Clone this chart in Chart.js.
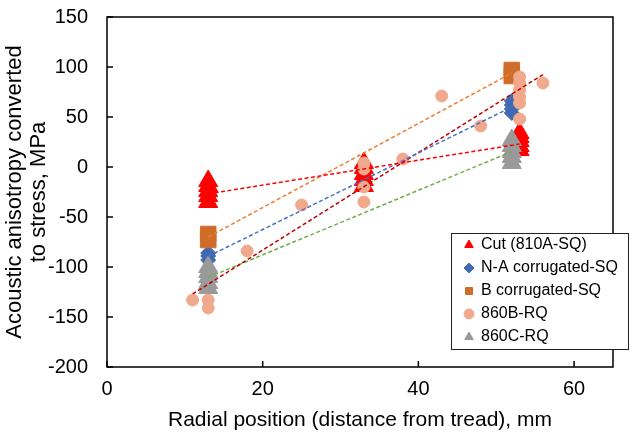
<!DOCTYPE html>
<html>
<head>
<meta charset="utf-8">
<script src="https://cdn.jsdelivr.net/npm/chart.js@4/dist/chart.umd.min.js"></script>
<style>
  body { margin: 0; background: #fff; }
  #wrap { width: 630px; height: 434px; }
</style>
</head>
<body>
<div id="wrap"><canvas id="myChart" width="630" height="434"></canvas></div>
<script>
// radial position (mm) and stress (MPa) per series
const cutX = [13, 13, 13, 13, 13, 33, 33, 33, 33, 33, 53, 53, 53, 53, 53];
const cutY = [-14, -19, -24, -29, -35, 4, -1, -7, -13, -19, 34, 30, 26, 21, 17];
const naX = [13, 13, 13, 52, 52, 52, 52];
const naY = [-86, -89, -93, 66, 62, 58, 54];
const bX = [13, 13, 52, 52];
const bY = [-67, -73, 97, 91];
const rqBX = [11, 13, 13, 18, 25, 33, 33, 33, 33, 38, 43, 48, 53, 53, 53, 53, 53, 53, 56];
const rqBY = [-133, -133, -141, -84, -38, 4, -2, -20, -35, 8, 71, 41, 90, 84, 77, 70, 64, 48, 84];
const rqCX = [13, 13, 13, 13, 13, 52, 52, 52, 52, 52];
const rqCY = [-100, -105, -110, -116, -121, 27, 21, 15, 10, 4];

const seriesNames = ["Cut (810A-SQ)", "N-A corrugated-SQ", "B corrugated-SQ", "860B-RQ", "860C-RQ"];
const xTicks = [0, 20, 40, 60];
const yTicks = [-200, -150, -100, -50, 0, 50, 100, 150];

const FONT = "'Liberation Sans', Arial, sans-serif";

function pts(xs, ys) {
  return xs.map((x, i) => ({ x: x, y: ys[i] }));
}

// least squares line over the data range, like an excel linear trendline
function trend(xs, ys) {
  const n = xs.length;
  const mx = xs.reduce((a, b) => a + b, 0) / n;
  const my = ys.reduce((a, b) => a + b, 0) / n;
  let sxy = 0, sxx = 0;
  xs.forEach((x, i) => { sxy += (x - mx) * (ys[i] - my); sxx += (x - mx) * (x - mx); });
  const k = sxy / sxx;
  const x0 = Math.min(...xs), x1 = Math.max(...xs);
  return [{ x: x0, y: my + k * (x0 - mx) }, { x: x1, y: my + k * (x1 - mx) }];
}

function markers(label, xs, ys, style, color, r, order) {
  return {
    label: label,
    data: pts(xs, ys),
    pointStyle: style,
    pointRadius: r,
    pointHoverRadius: r,
    backgroundColor: color,
    borderColor: color,
    borderWidth: 1,
    showLine: false,
    order: order
  };
}

function trendLine(xs, ys, color) {
  return {
    label: "trend",
    data: trend(xs, ys),
    showLine: true,
    borderColor: color,
    borderWidth: 1.5,
    borderDash: [4, 2.5],
    pointRadius: 0,
    fill: false,
    order: 0
  };
}

// plot frame, inward tick marks and the white legend box
const framePlugin = {
  id: "framePlugin",
  afterLayout(chart) {
    const lg = chart.legend;
    if (!lg) return;
    lg.left = 458;
    lg.top = 230;
    lg.right = 630;
    lg.bottom = 352;
    lg.width = lg.right - lg.left;
    lg.height = lg.bottom - lg.top;
  },
  beforeDraw(chart) {
    const ctx = chart.ctx;
    const a = chart.chartArea;
    const xs = chart.scales.x, ys = chart.scales.y;
    ctx.save();
    ctx.strokeStyle = "#000";
    ctx.lineWidth = 1.5;
    ctx.strokeRect(a.left, a.top, a.right - a.left, a.bottom - a.top);
    ctx.beginPath();
    xTicks.forEach(v => {
      const px = xs.getPixelForValue(v);
      ctx.moveTo(px, a.bottom);
      ctx.lineTo(px, a.bottom - 6);
    });
    yTicks.forEach(v => {
      const py = ys.getPixelForValue(v);
      ctx.moveTo(a.left, py);
      ctx.lineTo(a.left + 6, py);
    });
    ctx.stroke();
    // legend box
    ctx.fillStyle = "#fff";
    ctx.fillRect(451.5, 233.5, 177, 116);
    ctx.lineWidth = 1;
    ctx.strokeStyle = "#222";
    ctx.strokeRect(451.5, 233.5, 177, 116);
    ctx.restore();
  }
};

const ctx = document.getElementById("myChart");
const myChart = new Chart(ctx, {
  type: "scatter",
  data: {
    datasets: [
      trendLine(cutX, cutY, "#FF0000"),
      trendLine(naX, naY, "#4472C4"),
      trendLine(bX, bY, "#ED7D31"),
      trendLine(rqBX, rqBY, "#C00000"),
      trendLine(rqCX, rqCY, "#70AD47"),
      markers(seriesNames[0], cutX, cutY, "triangle", "#FF0000", 11, 5),
      markers(seriesNames[1], naX, naY, "rectRot", "#4169B4", 7.5, 4),
      markers(seriesNames[2], bX, bY, "rect", "#D06C2A", 11, 3),
      markers(seriesNames[3], rqBX, rqBY, "circle", "#F0A98C", 6, 2),
      markers(seriesNames[4], rqCX, rqCY, "triangle", "#9A9A9A", 11, 1)
    ]
  },
  options: {
    responsive: false,
    animation: false,
    layout: { padding: { top: 17, right: 17, left: 0, bottom: 0 } },
    plugins: {
      tooltip: { enabled: false },
      legend: {
        position: "chartArea",
        align: "start",
        labels: {
          usePointStyle: true,
          boxWidth: 8,
          boxHeight: 7,
          padding: 7,
          color: "#000",
          font: { family: FONT, size: 16 },
          filter: item => item.text !== "trend",
          sort: (a, b) => a.datasetIndex - b.datasetIndex
        }
      }
    },
    scales: {
      x: {
        type: "linear",
        min: 0,
        max: 65,
        afterBuildTicks: scale => { scale.ticks = xTicks.map(v => ({ value: v })); },
        afterFit: scale => {
          scale.height = 67;
          scale.paddingLeft = 0;
          scale.paddingRight = 0;
        },
        grid: { display: false, drawTicks: false },
        border: { display: false },
        ticks: { padding: 10, color: "#000", font: { family: FONT, size: 20 } },
        title: {
          display: true,
          text: "Radial position (distance from tread), mm",
          color: "#000",
          font: { family: FONT, size: 21 },
          padding: { top: 0, bottom: 1.5 }
        }
      },
      y: {
        type: "linear",
        min: -200,
        max: 150,
        afterBuildTicks: scale => { scale.ticks = yTicks.map(v => ({ value: v })); },
        afterFit: scale => {
          scale.width = 107;
          scale.paddingTop = 0;
          scale.paddingBottom = 0;
        },
        grid: { display: false, drawTicks: false },
        border: { display: false },
        ticks: { padding: 19, color: "#000", font: { family: FONT, size: 20 } },
        title: {
          display: true,
          text: ["Acoustic anisotropy converted", "to stress, MPa"],
          color: "#000",
          font: { family: FONT, size: 22, lineHeight: 1.09 },
          padding: { top: 2.5, bottom: 0 }
        }
      }
    }
  },
  plugins: [framePlugin]
});
</script>
</body>
</html>
